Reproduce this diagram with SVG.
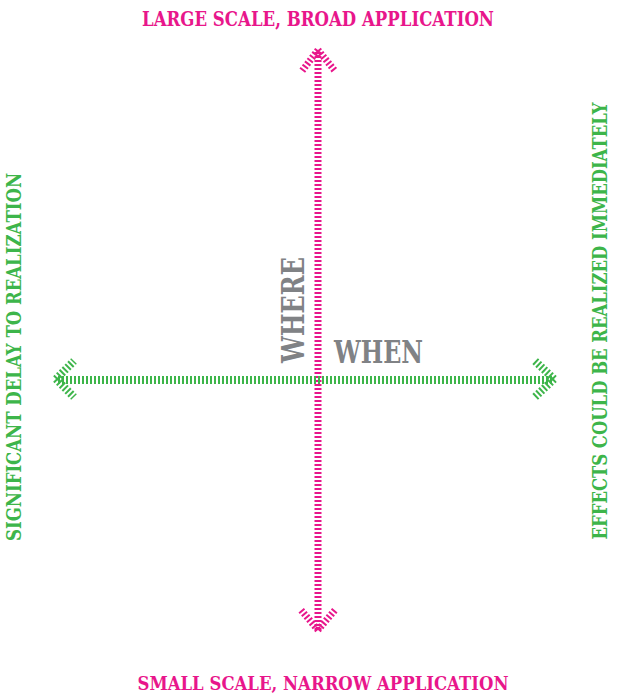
<svg xmlns="http://www.w3.org/2000/svg" width="618" height="695" viewBox="0 0 618 695">
<style>
.t{font-family:"DejaVu Serif","Liberation Serif",serif;font-weight:bold;}
.pk{fill:#e8168b;}
.gr{fill:#3db54a;}
.gy{fill:#808285;}
.vl{stroke:#e8168b;stroke-width:7;stroke-dasharray:2 2;fill:none;}
.hl{stroke:#3db54a;stroke-width:8;stroke-dasharray:2 2;fill:none;}
</style>
<rect width="618" height="695" fill="#fff"/>
<g id="connectors">
<line class="vl" x1="318" y1="52" x2="318" y2="630"/>
<path class="vl" d="M318 50 L302 71 M318 50 L335 71"/>
<path class="vl" d="M318 630 L301 610 M318 630 L335 610"/>
<line class="hl" x1="58" y1="380" x2="552" y2="380"/>
<path class="hl" d="M56 379 L74 361 M56 379 L74 397"/>
<path class="hl" d="M554 379 L535 361 M554 379 L535 397"/>
</g>
<g id="top"><text class="t pk" x="318" y="26" font-size="21" text-anchor="middle" textLength="352" lengthAdjust="spacingAndGlyphs">LARGE SCALE, BROAD APPLICATION</text></g>
<g id="bottom"><text class="t pk" x="323" y="690" font-size="19" text-anchor="middle" textLength="371" lengthAdjust="spacingAndGlyphs">SMALL SCALE, NARROW APPLICATION</text></g>
<g id="left"><text class="t gr" transform="translate(21,357) rotate(-90)" x="0" y="0" font-size="21" text-anchor="middle" textLength="368" lengthAdjust="spacingAndGlyphs">SIGNIFICANT DELAY TO REALIZATION</text></g>
<g id="right"><text class="t gr" transform="translate(607,321) rotate(-90)" x="0" y="0" font-size="20" text-anchor="middle" textLength="437" lengthAdjust="spacingAndGlyphs">EFFECTS COULD BE REALIZED IMMEDIATELY</text></g>
<g id="where"><text class="t gy" transform="translate(304,310) rotate(-90)" x="0" y="0" font-size="31" text-anchor="middle" textLength="106" lengthAdjust="spacingAndGlyphs">WHERE</text></g>
<g id="when"><text class="t gy" x="334" y="363" font-size="31" textLength="89" lengthAdjust="spacingAndGlyphs">WHEN</text></g>
</svg>
